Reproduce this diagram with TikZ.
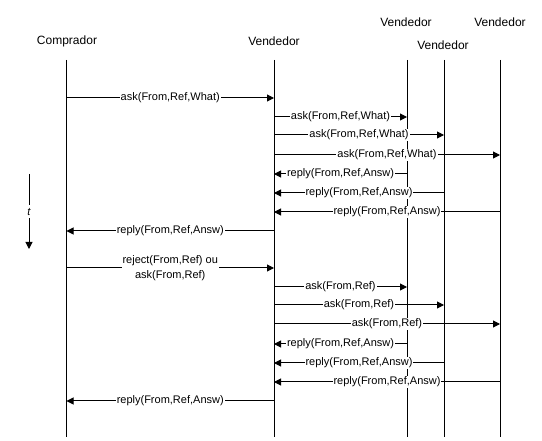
\documentclass[tikz,border=0pt]{standalone}
\usepackage{fontspec}
\setmainfont{Liberation Sans}
\usetikzlibrary{arrows.meta}
\begin{document}
\begin{tikzpicture}[x=1pt,y=-1pt,
  life/.style={line width=1pt},
  msg/.style={line width=1pt,-{Triangle[length=7pt,width=7pt]}},
  lbl/.style={fill=white,inner sep=1pt,font=\fontsize{11}{15}\selectfont,align=center},
  hdr/.style={font=\fontsize{12}{14}\selectfont,inner sep=0pt}]
\useasboundingbox (0,0) rectangle (542,441);
% headers
\node[hdr] (hC) at (67,41) {Comprador};
\node[hdr] (hV) at (274,41) {Vendedor};
\node[hdr] (hV1) at (406,22) {Vendedor};
\node[hdr] (hV2) at (443,45) {Vendedor};
\node[hdr] (hV3) at (500,22) {Vendedor};
% lifelines
\foreach \n/\x in {C/66.5,V/274,A/407,B/444,D/500}{
  \coordinate (\n top) at (\x,60);
  \coordinate (\n bot) at (\x,437);
  \draw[life] (\n top) -- (\n bot);
}
% message anchor coordinates
\foreach \i/\y in {1/98,2/117,3/135,4/155,5/174,6/193,7/212,8/231,9/268,10/287,11/305,12/324,13/344,14/363,15/382,16/401}{
  \coordinate (C\i) at (66.5,\y);
  \coordinate (V\i) at (274,\y);
  \coordinate (A\i) at (407,\y);
  \coordinate (B\i) at (444,\y);
  \coordinate (D\i) at (500,\y);
}
% messages
\draw[msg] (C1) -- node[lbl]{ask(From,Ref,What)} (V1);
\draw[msg] (V2) -- node[lbl]{ask(From,Ref,What)} (A2);
\draw[msg] (V3) -- node[lbl]{ask(From,Ref,What)} (B3);
\draw[msg] (V4) -- node[lbl]{ask(From,Ref,What)} (D4);
\draw[msg] (A5) -- node[lbl]{reply(From,Ref,Answ)} (V5);
\draw[msg] (B6) -- node[lbl]{reply(From,Ref,Answ)} (V6);
\draw[msg] (D7) -- node[lbl]{reply(From,Ref,Answ)} (V7);
\draw[msg] (V8) -- node[lbl]{reply(From,Ref,Answ)} (C8);
\draw[msg] (C9) -- node[lbl]{reject(From,Ref) ou\\ask(From,Ref)} (V9);
\draw[msg] (V10) -- node[lbl]{ask(From,Ref)} (A10);
\draw[msg] (V11) -- node[lbl]{ask(From,Ref)} (B11);
\draw[msg] (V12) -- node[lbl]{ask(From,Ref)} (D12);
\draw[msg] (A13) -- node[lbl]{reply(From,Ref,Answ)} (V13);
\draw[msg] (B14) -- node[lbl]{reply(From,Ref,Answ)} (V14);
\draw[msg] (D15) -- node[lbl]{reply(From,Ref,Answ)} (V15);
\draw[msg] (V16) -- node[lbl]{reply(From,Ref,Answ)} (C16);
% time arrow
\coordinate (t0) at (29,174);
\coordinate (t1) at (29,249);
\draw[msg] (t0) -- node[lbl,pos=0.5,inner sep=3pt]{\itshape t} (t1);
\end{tikzpicture}
\end{document}
